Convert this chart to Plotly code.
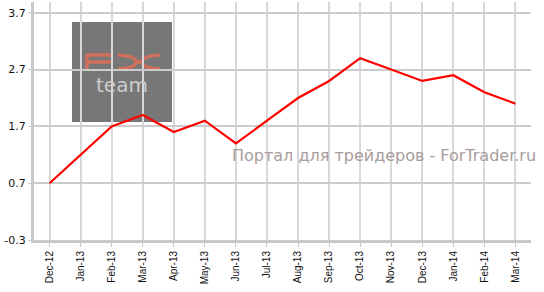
import plotly.graph_objects as go

months = ["Dec-12", "Jan-13", "Feb-13", "Mar-13", "Apr-13", "May-13", "Jun-13", "Jul-13",
          "Aug-13", "Sep-13", "Oct-13", "Nov-13", "Dec-13", "Jan-14", "Feb-14", "Mar-14"]
values = [0.7, 1.2, 1.7, 1.9, 1.6, 1.8, 1.4, 1.8, 2.2, 2.5, 2.9, 2.7, 2.5, 2.6, 2.3, 2.1]
y_ticks = [-0.3, 0.7, 1.7, 2.7, 3.7]
y_tick_text = ["-0.3", "0.7", "1.7", "2.7", "3.7"]

n = len(values)
cats = months[:n]

# layout geometry (pixels)
L, R, T, B = 34, 13, 2, 52
W, H = 544, 292
PW, PH = W - L - R, H - T - B


def px(x):
    return (x - L) / PW


def py(y):
    return 1 - (y - T) / PH


def path(points, closed=False):
    s = "M " + " L ".join(f"{px(x):.4f},{py(y):.4f}" for x, y in points)
    return s + (" Z" if closed else "")


def qpath(p0, c, p1):
    return (f"M {px(p0[0]):.4f},{py(p0[1]):.4f} Q {px(c[0]):.4f},{py(c[1]):.4f} "
            f"{px(p1[0]):.4f},{py(p1[1]):.4f}")


salmon = "#d0705c"
logo_line = dict(color=salmon, width=3.5)

shapes = [dict(type="rect", xref="paper", yref="paper",
               x0=px(72), x1=px(172), y0=py(122), y1=py(22),
               fillcolor="#777777", line=dict(width=0), layer="below")]
# "FX" logo letters drawn as strokes
for pts in ([(87, 70), (87, 55), (112, 55)], [(87, 62), (111, 62)]):
    shapes.append(dict(type="path", xref="paper", yref="paper", path=path(pts),
                       line=logo_line, layer="below"))
for p0, c, p1 in (((118, 55), (136, 56), (136, 62)), ((118, 69), (136, 68), (136, 62)),
                  ((160, 55), (142, 56), (142, 62)), ((160, 69), (142, 68), (142, 62))):
    shapes.append(dict(type="path", xref="paper", yref="paper", path=qpath(p0, c, p1),
                       line=logo_line, layer="below"))
shapes.append(dict(type="path", xref="paper", yref="paper", path=path([(136, 62), (142, 62)]),
                   line=logo_line, layer="below"))

fig = go.Figure()
fig.add_trace(go.Scatter(x=list(range(n)), y=values, mode="lines",
                         line=dict(color="#ff0000", width=2.2), hoverinfo="skip"))

fig.update_layout(
    width=W, height=H,
    margin=dict(l=L, r=R, t=T, b=B),
    paper_bgcolor="white", plot_bgcolor="white",
    showlegend=False,
    xaxis=dict(
        range=[-0.5, n - 0.5],
        tickmode="array", tickvals=list(range(n)), ticktext=cats,
        tickangle=-90, tickfont=dict(family="Liberation Sans", size=10, color="#111"),
        showgrid=True, gridcolor="#d8d8d8", gridwidth=1.5,
        showline=True, linecolor="#c8c8c8", linewidth=3,
        ticks="outside", ticklen=4, tickcolor="#c8c8c8", tickwidth=1,
        zeroline=False, fixedrange=True,
    ),
    yaxis=dict(
        range=[-0.3, 3.89],
        tickmode="array", tickvals=y_ticks, ticktext=y_tick_text,
        tickfont=dict(family="DejaVu Sans", size=11, color="#111"),
        showgrid=True, gridcolor="#cccccc", gridwidth=1.5,
        showline=True, linecolor="#c8c8c8", linewidth=3,
        ticks="outside", ticklen=3, tickcolor="#c8c8c8", tickwidth=1,
        zeroline=False, fixedrange=True,
    ),
    shapes=shapes,
    annotations=[
        dict(text="team", xref="paper", yref="paper", x=px(122), y=py(85),
             showarrow=False, font=dict(family="DejaVu Sans", size=20, color="#cccccc"),
             xanchor="center", yanchor="middle"),
        dict(text="Портал для трейдеров - ForTrader.ru", xref="paper", yref="paper",
             x=px(538), y=py(155), showarrow=False,
             font=dict(family="DejaVu Sans", size=16, color="#a89c9c"),
             xanchor="right", yanchor="middle"),
    ],
)

fig.write_html("out.html")
